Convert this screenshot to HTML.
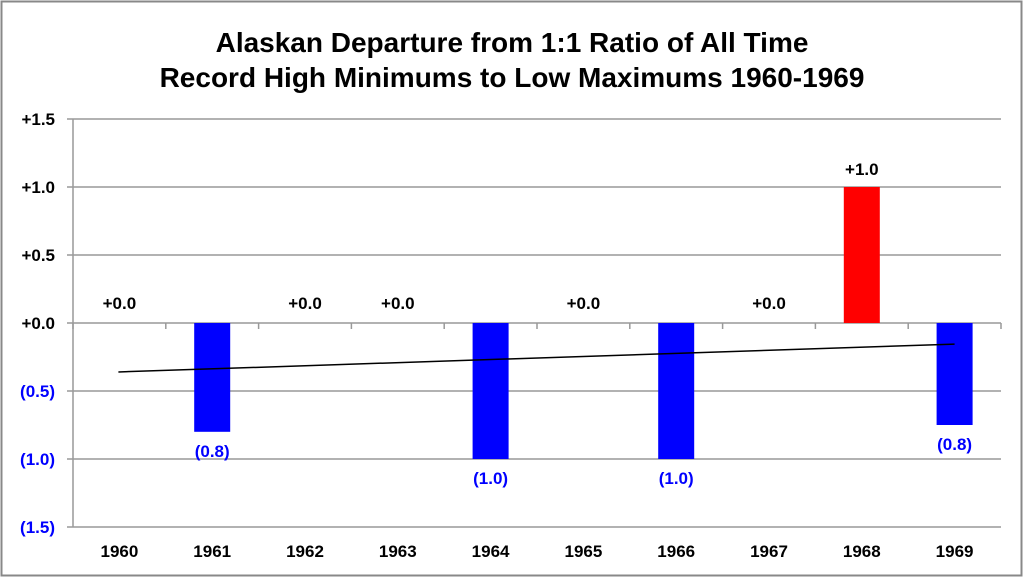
<!DOCTYPE html>
<html><head><meta charset="utf-8"><style>
body{margin:0;background:#fff;}
svg{display:block;font-family:"Liberation Sans",Calibri,sans-serif;font-weight:bold;}
</style></head><body>
<svg id="chart" width="1024" height="578" viewBox="0 0 1024 578">
<rect x="1.5" y="1.5" width="1020" height="574" fill="#fff" stroke="#888" stroke-width="2"/>
<text x="512" y="52" text-anchor="middle" font-size="28" fill="#000">Alaskan Departure from 1:1 Ratio of All Time</text>
<text x="512" y="87" text-anchor="middle" font-size="28" fill="#000">Record High Minimums  to Low Maximums 1960-1969</text>
<g id="grid"></g>
<g id="bars"></g>
<g id="labels"></g>
<g id="axes"></g>
</svg>
<script>
const categories=["1960","1961","1962","1963","1964","1965","1966","1967","1968","1969"];
const values=[0,-0.8,0,0,-1.0,0,-1.0,0,1.0,-0.75];
const yTicks=[1.5,1.0,0.5,0,-0.5,-1.0,-1.5];
const yTickLabels=["+1.5","+1.0","+0.5","+0.0","(0.5)","(1.0)","(1.5)"];
const trendStart=-0.36, trendEnd=-0.155;
const NS="http://www.w3.org/2000/svg";
const L=73,R=1001,T=119,B=527,yMax=1.5,yMin=-1.5;
const band=(R-L)/categories.length;
const x=i=>L+band*(i+0.5);
const y=v=>T+(yMax-v)/(yMax-yMin)*(B-T);
function mk(tag,attrs,parent,txt){const e=document.createElementNS(NS,tag);for(const k in attrs)e.setAttribute(k,attrs[k]);if(txt!==undefined)e.textContent=txt;document.getElementById(parent).appendChild(e);return e;}
yTicks.forEach((t,i)=>{
 const g=mk('line',{x1:L-6,x2:R,y1:y(t),y2:y(t),stroke:'#999','stroke-width':1.5},'grid');
 
 const tl=mk('text',{x:55,y:y(t)+6,'text-anchor':'end','font-size':17,fill:t<0?'#0000ff':'#000'},'axes',yTickLabels[i]);
 
});
const ax=mk('line',{x1:L,x2:L,y1:T,y2:B,stroke:'#999','stroke-width':1.5},'axes');

for(let i=0;i<=categories.length;i++){
 const tk=mk('line',{x1:L+band*i,x2:L+band*i,y1:y(0),y2:y(0)+6,stroke:'#999','stroke-width':1.5},'axes');
 
}
categories.forEach((c,i)=>{
 const v=values[i];
 if(v!==0){
  const r=mk('rect',{x:x(i)-18,width:36,y:Math.min(y(v),y(0)),height:Math.abs(y(v)-y(0)),fill:v>0?'#ff0000':'#0000ff'},'bars');
  
 }
 let lbl,ly,col;
 if(v>0){lbl='+'+v.toFixed(1);ly=y(v)-12;col='#000';}
 else if(v<0){lbl='('+Math.abs(v).toFixed(1)+')';ly=y(v)+25;col='#0000ff';}
 else{lbl='+0.0';ly=y(0)-14;col='#000';}
 const t=mk('text',{x:x(i),y:ly,'text-anchor':'middle','font-size':17,fill:col},'labels',lbl);
 
 const xl=mk('text',{x:x(i),y:557,'text-anchor':'middle','font-size':17,fill:'#000'},'axes',c);
 
});
const tr=mk('line',{x1:x(0)-1,x2:x(9),y1:y(trendStart),y2:y(trendEnd),stroke:'#000','stroke-width':1.5},'labels');

</script>
</body></html>
